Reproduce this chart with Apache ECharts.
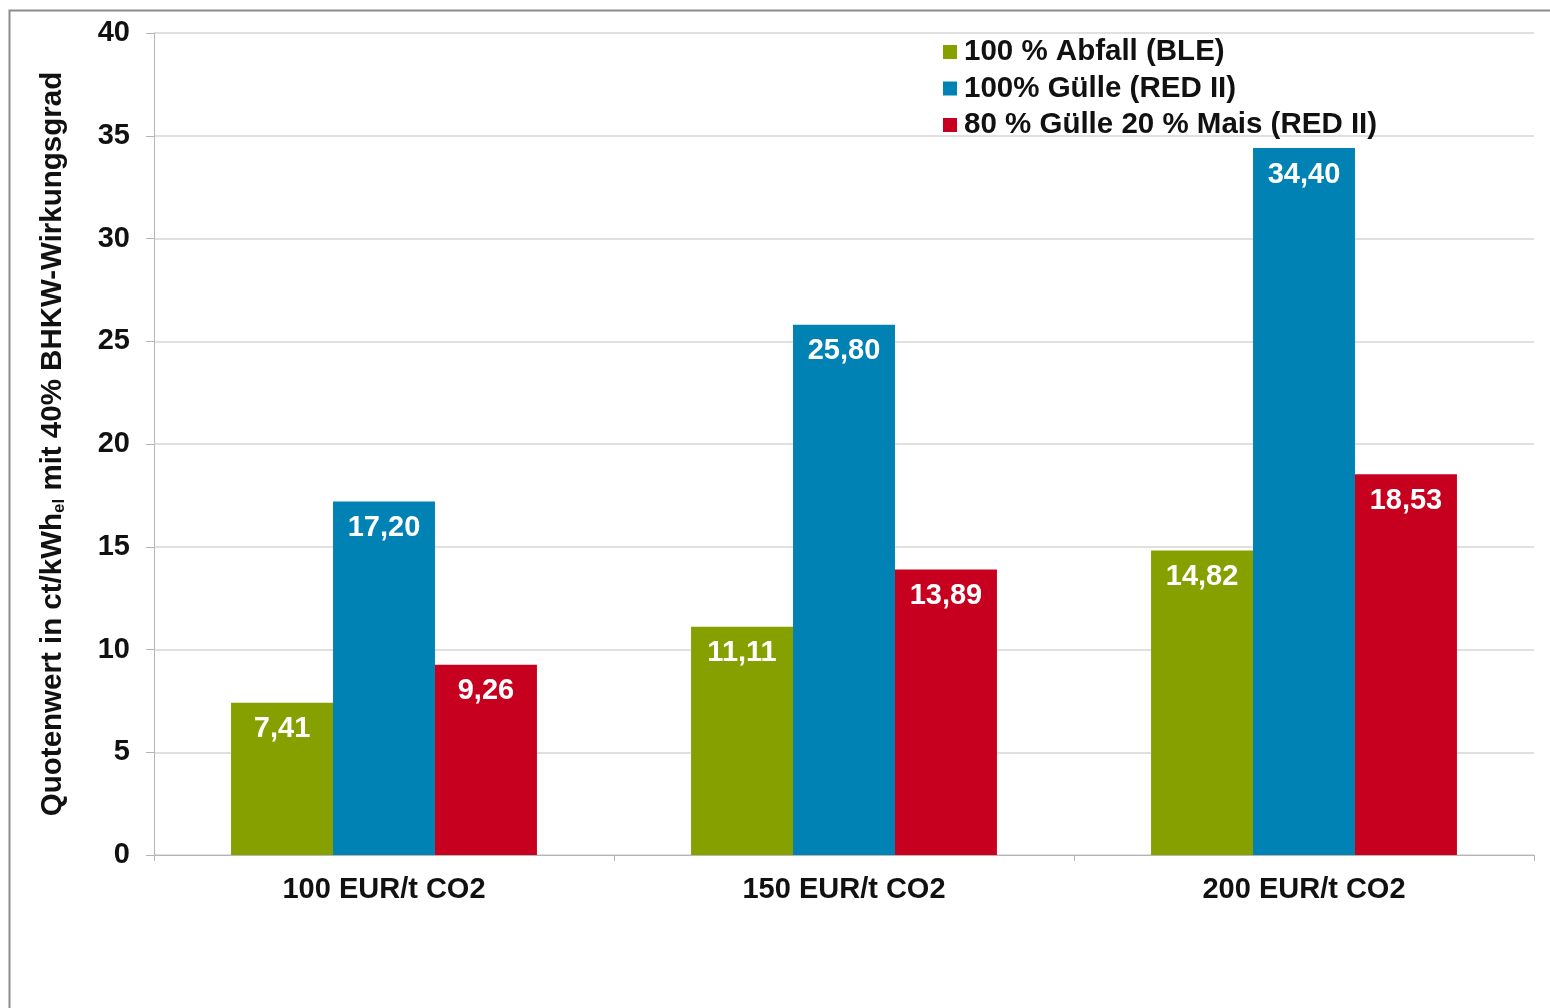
<!DOCTYPE html>
<html>
<head>
<meta charset="utf-8">
<script src="https://cdn.jsdelivr.net/npm/echarts@6/dist/echarts.min.js"></script>
<style>
  html, body { margin: 0; padding: 0; background: #fff; }
  #chart { width: 1550px; height: 1008px; }
</style>
</head>
<body>
<div id="chart"></div>
<script>
var categories = ['100 EUR/t CO2', '150 EUR/t CO2', '200 EUR/t CO2'];
var seriesNames = ['100 % Abfall (BLE)', '100% Gülle (RED II)', '80 % Gülle 20 % Mais (RED II)'];
var abfall = [7.41, 11.11, 14.82];
var guelle = [17.20, 25.80, 34.40];
var guelleMais = [9.26, 13.89, 18.53];
var colors = ['#86a000', '#0082b4', '#c8001f'];

var font = 'Liberation Sans, Arial, sans-serif';

function makeSeries(name, data, color) {
    return {
        name: name,
        type: 'bar',
        data: data,
        barGap: 0,
        barCategoryGap: '33.5%',
        itemStyle: { color: color },
        label: {
            show: true,
            position: 'insideTop',
            distance: 12,
            color: '#fff',
            fontFamily: font,
            fontWeight: 'bold',
            fontSize: 29,
            formatter: function (p) {
                return p.value.toFixed(2).replace('.', ',');
            }
        }
    };
}

var myChart = echarts.init(document.getElementById('chart'));

var option = {
    animation: false,
    backgroundColor: '#fff',
    graphic: [{
        type: 'rect',
        shape: { x: 9.5, y: 10.5, width: 1600, height: 1100 },
        style: { fill: 'none', stroke: '#8c8c8c', lineWidth: 2 },
        silent: true
    }],
    grid: {
        left: 154,
        right: 16,
        top: 33,
        bottom: 153
    },
    legend: {
        orient: 'vertical',
        left: 938,
        top: 32,
        itemWidth: 14,
        itemHeight: 14,
        itemGap: 6.5,
        icon: 'rect',
        data: seriesNames,
        textStyle: {
            fontFamily: font,
            fontWeight: 'bold',
            fontSize: 29.5,
            lineHeight: 30,
            color: '#111',
            padding: [0, 0, 0, 2]
        }
    },
    xAxis: [{
        type: 'category',
        data: categories,
        axisLine: { lineStyle: { color: '#b5b5b5', width: 1 } },
        axisTick: { show: true, length: 6, lineStyle: { color: '#b5b5b5' } },
        axisLabel: {
            margin: 20,
            color: '#111',
            fontFamily: font,
            fontWeight: 'bold',
            fontSize: 29
        }
    }],
    yAxis: [{
        type: 'value',
        min: 0,
        max: 40,
        interval: 5,
        name: 'Quotenwert in ct/kWh{sub|el} mit 40% BHKW-Wirkungsgrad',
        nameLocation: 'middle',
        nameGap: 86,
        nameTextStyle: {
            fontFamily: font,
            fontWeight: 'bold',
            fontSize: 29.5,
            lineHeight: 30,
            color: '#111',
            rich: {
                sub: {
                    fontFamily: font,
                    fontWeight: 'bold',
                    fontSize: 17,
                    lineHeight: 30,
                    color: '#111',
                    verticalAlign: 'bottom'
                }
            }
        },
        axisLine: { show: true, lineStyle: { color: '#b5b5b5', width: 1 } },
        axisTick: { show: true, length: 8, lineStyle: { color: '#b5b5b5' } },
        splitLine: { lineStyle: { color: '#d6d6d6', width: 1.5 } },
        axisLabel: {
            margin: 24,
            color: '#111',
            fontFamily: font,
            fontWeight: 'bold',
            fontSize: 29
        }
    }],
    series: [
        makeSeries(seriesNames[0], abfall, colors[0]),
        makeSeries(seriesNames[1], guelle, colors[1]),
        makeSeries(seriesNames[2], guelleMais, colors[2])
    ]
};

myChart.setOption(option);
</script>
</body>
</html>
